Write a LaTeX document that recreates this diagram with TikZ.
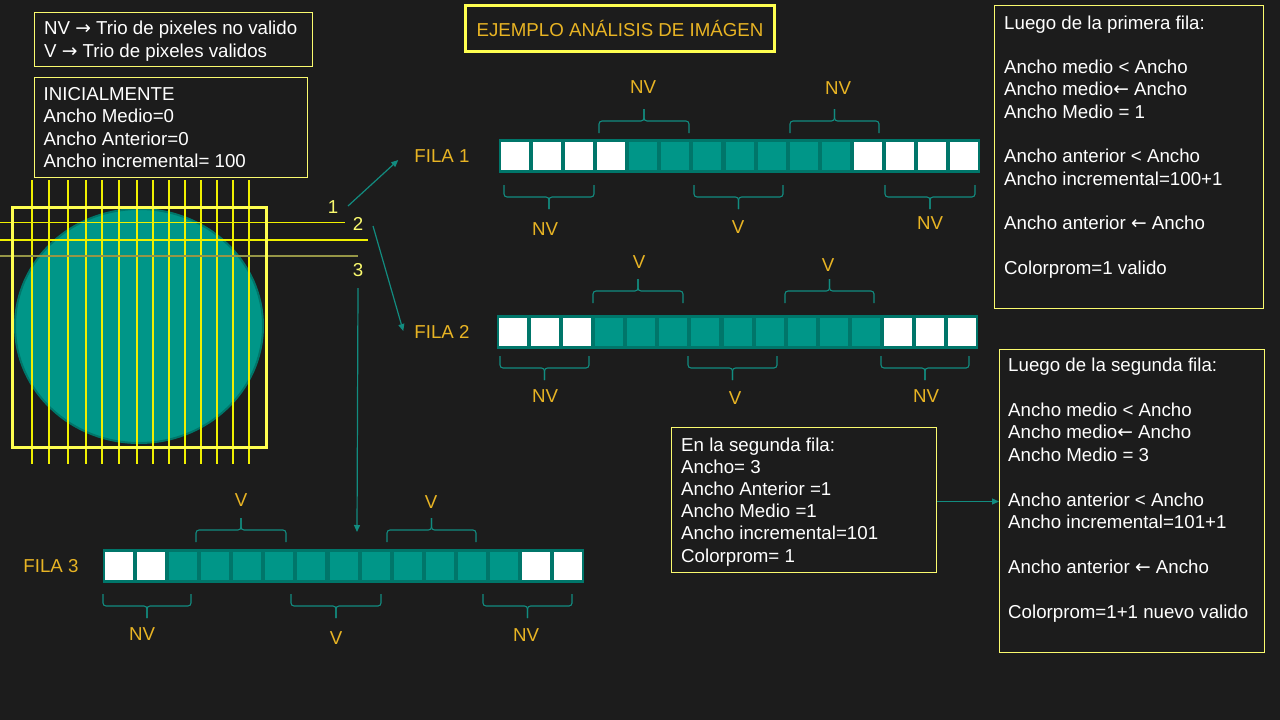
\documentclass[tikz,border=0pt]{standalone}
\usepackage{fontspec}
\setmainfont{Liberation Sans}
\newfontfamily\arrowfont{DejaVu Sans}
\newcommand{\ra}{{\arrowfont →}}
\newcommand{\la}{{\arrowfont ←}}
\usetikzlibrary{arrows.meta,calc}
\definecolor{bg}{RGB}{28,28,28}
\definecolor{tealA}{RGB}{0,150,136}
\definecolor{tealB}{RGB}{0,118,106}
\definecolor{tealL}{RGB}{18,140,128}
\definecolor{gold}{RGB}{232,180,36}
\definecolor{yel}{RGB}{250,250,110}
\definecolor{yelT}{RGB}{255,255,80}
\definecolor{yelG}{RGB}{240,240,0}
\definecolor{olive}{RGB}{150,150,70}
\newcommand{\pixstrip}[4]{%
  \node[fill=tealB, minimum width=481pt, minimum height=34pt, anchor=north west] (#1) at (#2,#3) {};
  \foreach \c [count=\i from 0] in {#4} {
    \node[cell, fill=\c] (#1-\i) at ({#2+(\i+0.5)*32.07},{#3+17}) {};
  }%
}
\newcommand{\brc}[4]{%
  \draw[brcs] (#1,#3) -- (#1,{#3+#4*12}) -- ({(#1+#2)/2},{#3+#4*12}) -- ({(#1+#2)/2},{#3+#4*24});
  \draw[brcs] (#2,#3) -- (#2,{#3+#4*12}) -- ({(#1+#2)/2},{#3+#4*12}) -- ({(#1+#2)/2},{#3+#4*24});
}
\begin{document}
\begin{tikzpicture}[x=1pt,y=-1pt,
  every node/.style={font=\fontsize{18.7}{22.3}\selectfont, inner sep=0pt},
  txt/.style={text=white, align=left, anchor=north west},
  tbox/.style={draw=yel, line width=1pt, anchor=north west},
  lbl/.style={text=gold},
  num/.style={text=yel},
  cell/.style={minimum width=28pt, minimum height=28pt, anchor=center},
  conn/.style={draw=tealL, line width=1.2pt, -{Triangle[length=7pt,width=6pt]}},
  brcs/.style={draw=tealL, line width=1.1pt, rounded corners=3pt}
]
\fill[bg] (0,0) rectangle (1280,720);
\useasboundingbox (0,0) rectangle (1280,720);

% title
\node[draw=yelT, line width=3pt, minimum width=309pt, minimum height=46pt, text=gold] (title) at (620,28) {EJEMPLO ANÁLISIS DE IMÁGEN};

% legend
\node[tbox, minimum width=278pt, minimum height=54pt] (leg) at (34,12) {};
\node[txt, font=\fontsize{18.7}{23.3}\selectfont] (legt) at (44,20.5) {NV \ra{} Trio de pixeles no valido\\V \ra{} Trio de pixeles validos};

\node[tbox, minimum width=273pt, minimum height=100pt] (ini) at (34,77) {};
\node[txt] (init) at (43.5,87.3) {INICIALMENTE\\Ancho Medio=0\\Ancho Anterior=0\\Ancho incremental= 100};

% circle and grid
\fill[tealA, draw=tealB, line width=2pt] (139,326) ellipse [x radius=124pt, y radius=117pt];
\foreach \xx in {32,49,68,86,102,119,137,153,169,185,201,217,233,249}
  \draw[yelG, line width=1.8pt] (\xx,180) -- (\xx,464);
\draw[yelG, line width=1.3pt] (0,222.7) -- (345,222.7);
\draw[yelG, line width=1.3pt] (0,240) -- (368,240);
\draw[olive, line width=1.5pt] (0,256) -- (358,256);
\draw[yelT, line width=3pt] (12,207) rectangle (266,447);

\node[num] (n1) at (333,207) {1};
\node[num] (n2) at (358,224) {2};
\node[num] (n3) at (358,270) {3};

% rows
\node[lbl] (fila1) at (442,156) {FILA 1};
\node[lbl] (fila2) at (442,332) {FILA 2};
\node[lbl] (fila3) at (51,566) {FILA 3};

\pixstrip{s1}{499}{139}{white,white,white,white,tealA,tealA,tealA,tealA,tealA,tealA,tealA,white,white,white,white}
\pixstrip{s2}{497}{315}{white,white,white,tealA,tealA,tealA,tealA,tealA,tealA,tealA,tealA,tealA,white,white,white}
\pixstrip{s3}{103}{549}{white,white,tealA,tealA,tealA,tealA,tealA,tealA,tealA,tealA,tealA,tealA,tealA,white,white}

% braces row 1
\brc{599}{689}{133}{-1}
\brc{790}{879}{133}{-1}
\brc{504}{594}{185}{1}
\brc{694}{783}{185}{1}
\brc{885}{975}{185}{1}
\node[lbl] (b1a) at (643,87) {NV};
\node[lbl] (b1b) at (838,88) {NV};
\node[lbl] (b1c) at (545,229) {NV};
\node[lbl] (b1d) at (738,227) {V};
\node[lbl] (b1e) at (930,223) {NV};

% braces row 2
\brc{593}{683}{303}{-1}
\brc{785}{874}{303}{-1}
\brc{500}{589}{356}{1}
\brc{688}{777}{356}{1}
\brc{881}{969}{356}{1}
\node[lbl] (b2a) at (639,262) {V};
\node[lbl] (b2b) at (828,265) {V};
\node[lbl] (b2c) at (545,396) {NV};
\node[lbl] (b2d) at (735,398) {V};
\node[lbl] (b2e) at (926,396) {NV};

% braces row 3
\brc{196}{286}{542}{-1}
\brc{387}{476}{542}{-1}
\brc{103}{191}{594}{1}
\brc{291}{381}{594}{1}
\brc{483}{572}{594}{1}
\node[lbl] (b3a) at (241,500) {V};
\node[lbl] (b3b) at (431,502) {V};
\node[lbl] (b3c) at (142,634) {NV};
\node[lbl] (b3d) at (336,638) {V};
\node[lbl] (b3e) at (526,635) {NV};

% connectors
\draw[conn] ($(n1)+(15,-1)$) -- ($(fila1.west)+(-16,4)$);
\draw[conn] ($(n2)+(15,2)$) -- ($(fila2.west)+(-11,-1)$);
\draw[conn] ($(n3)+(0,18)$) -- ($(s3.north west)+(254,-17)$);

% right boxes
\node[tbox, minimum width=269pt, minimum height=303pt] (rb1) at (994,5) {};
\node[txt] (rb1t) at (1004,15.3) {Luego de la primera fila:\\\mbox{}\\Ancho medio < Ancho\\Ancho medio\la{} Ancho\\Ancho Medio = 1\\\mbox{}\\Ancho anterior < Ancho\\Ancho incremental=100+1\\\mbox{}\\Ancho anterior \la{} Ancho\\\mbox{}\\Colorprom=1 valido};

\node[tbox, minimum width=265pt, minimum height=145pt] (mid) at (671,427) {};
\node[txt, font=\fontsize{18.7}{22.2}\selectfont] (midt) at (681,437.3) {En la segunda fila:\\Ancho= 3\\Ancho Anterior =1\\Ancho Medio =1\\Ancho incremental=101\\Colorprom= 1};

\node[tbox, minimum width=265pt, minimum height=303pt] (rb2) at (999,349) {};
\node[txt, font=\fontsize{18.7}{22.5}\selectfont] (rb2t) at (1008,357.3) {Luego de la segunda fila:\\\mbox{}\\Ancho medio < Ancho\\Ancho medio\la{} Ancho\\Ancho Medio = 3\\\mbox{}\\Ancho anterior < Ancho\\Ancho incremental=101+1\\\mbox{}\\Ancho anterior \la{} Ancho\\\mbox{}\\Colorprom=1+1 nuevo valido};

\draw[conn] ($(mid.east)+(0,1.5)$) -- ($(mid.east -| rb2.west)+(0,1.5)$);
\end{tikzpicture}
\end{document}
